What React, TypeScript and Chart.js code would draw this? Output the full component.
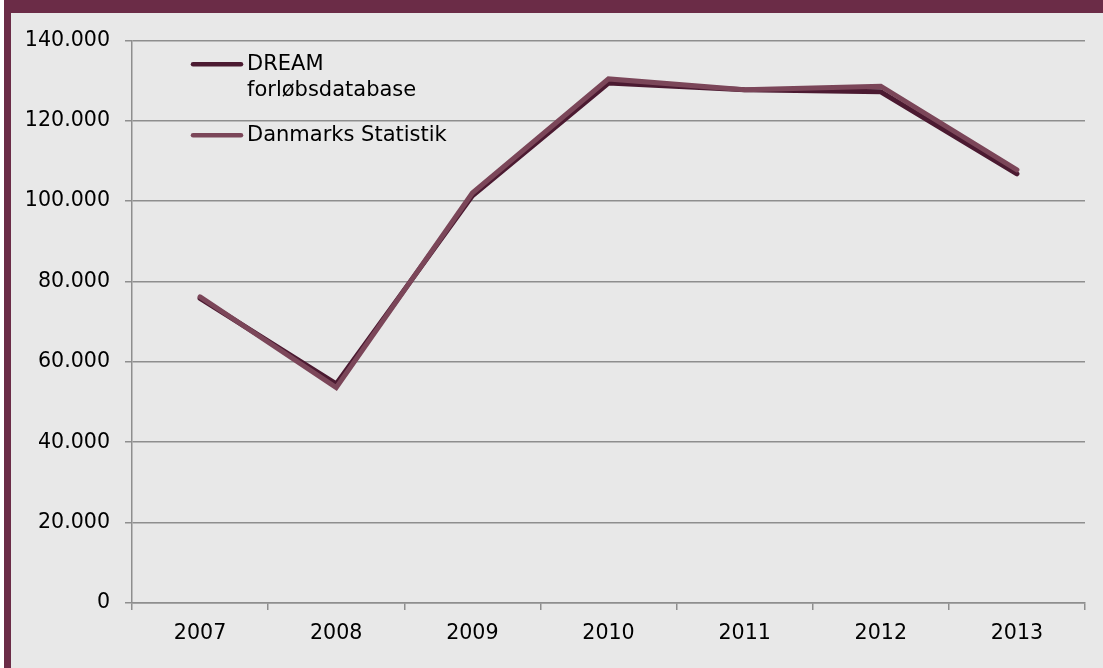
import React, { useEffect, useRef } from "react";
import { Chart, registerables } from "chart.js";

Chart.register(...registerables);

const years = ["2007", "2008", "2009", "2010", "2011", "2012", "2013"];
const dreamValues = [75800, 54500, 101300, 129400, 127700, 127200, 106800];
const dstValues = [76200, 53600, 102000, 130400, 127700, 128600, 107800];
const seriesNames = [["DREAM", "forløbsdatabase"], ["Danmarks Statistik"]];
const yTicks = [0, 20000, 40000, 60000, 80000, 100000, 120000, 140000];

const DREAM_COLOR = "#4b1a31";
const DST_COLOR = "#7b4659";
const GRID = "#8e8e8e";
const FONT = "'DejaVu Sans', Verdana, sans-serif";

const fmt = (v: number) =>
  v === 0 ? "0" : String(v).replace(/\B(?=(\d{3})+(?!\d))/g, ".");

const legendPlugin = {
  id: "customLegend",
  afterDraw(chart: any) {
    const { ctx, chartArea } = chart;
    const colors = [DREAM_COLOR, DST_COLOR];
    const x0 = chartArea.left + 61;
    const rows = [chartArea.top + 24, chartArea.top + 95];
    ctx.save();
    ctx.font = `21px ${FONT}`;
    ctx.fillStyle = "#000";
    ctx.textBaseline = "middle";
    seriesNames.forEach((lines, i) => {
      const y = rows[i];
      ctx.strokeStyle = colors[i];
      ctx.lineWidth = 4.5;
      ctx.lineCap = "round";
      ctx.beginPath();
      ctx.moveTo(x0, y);
      ctx.lineTo(x0 + 48, y);
      ctx.stroke();
      lines.forEach((t, j) => {
        ctx.fillText(t, x0 + 54, y + j * 26);
      });
    });
    ctx.restore();
  },
};

export default function App() {
  const ref = useRef<HTMLCanvasElement>(null);

  useEffect(() => {
    if (!ref.current) return;
    const chart = new Chart(ref.current, {
      type: "line",
      data: {
        labels: years,
        datasets: [
          {
            label: seriesNames[0].join(" "),
            data: dreamValues,
            borderColor: DREAM_COLOR,
            backgroundColor: DREAM_COLOR,
            borderWidth: 5,
            pointRadius: 0,
            tension: 0,
            order: 1,
            borderCapStyle: "round",
            borderJoinStyle: "miter",
          },
          {
            label: seriesNames[1].join(" "),
            data: dstValues,
            borderColor: DST_COLOR,
            backgroundColor: DST_COLOR,
            borderWidth: 5,
            pointRadius: 0,
            tension: 0,
            order: 0,
            borderCapStyle: "round",
            borderJoinStyle: "miter",
          },
        ],
      },
      options: {
        animation: false,
        responsive: false,
        maintainAspectRatio: false,
        layout: { padding: { top: 27, right: 18, left: 0, bottom: 0 } },
        plugins: {
          legend: { display: false },
          tooltip: { enabled: false },
        },
        scales: {
          x: {
            type: "category",
            offset: true,
            grid: {
              offset: true,
              drawOnChartArea: false,
              drawTicks: true,
              tickLength: 7,
              color: GRID,
              lineWidth: 1.5,
            },
            border: { color: GRID, width: 1.5 },
            ticks: {
              color: "#000",
              font: { family: FONT, size: 20.6 },
              padding: 11,
              maxRotation: 0,
            },
            afterFit: (s: any) => {
              s.height = 65;
            },
          },
          y: {
            min: 0,
            max: 140000,
            afterBuildTicks: (s: any) => {
              s.ticks = yTicks.map((v) => ({ value: v }));
            },
            grid: {
              color: GRID,
              lineWidth: 1.5,
              drawTicks: true,
              tickLength: 7,
            },
            border: { color: GRID, width: 1.5 },
            ticks: {
              color: "#000",
              font: { family: FONT, size: 20.6 },
              padding: 15,
              callback: (v: any) => fmt(Number(v)),
            },
            afterFit: (s: any) => {
              s.width = 121;
            },
          },
        },
      },
      plugins: [legendPlugin],
    });
    return () => chart.destroy();
  }, []);

  return (
    <div
      style={{
        position: "fixed",
        left: 0,
        top: 0,
        width: 1103,
        height: 668,
        background: "#ffffff",
        overflow: "hidden",
      }}
    >
      <div style={{ position: "absolute", left: 4, top: 0, width: 1099, height: 13, background: "#6b2c47" }} />
      <div style={{ position: "absolute", left: 4, top: 0, width: 7, height: 668, background: "#6b2c47" }} />
      <div style={{ position: "absolute", left: 11, top: 13, width: 1092, height: 655, background: "#e8e8e8" }}>
        <canvas ref={ref} width={1092} height={655} style={{ display: "block", width: 1092, height: 655 }} />
      </div>
    </div>
  );
}
